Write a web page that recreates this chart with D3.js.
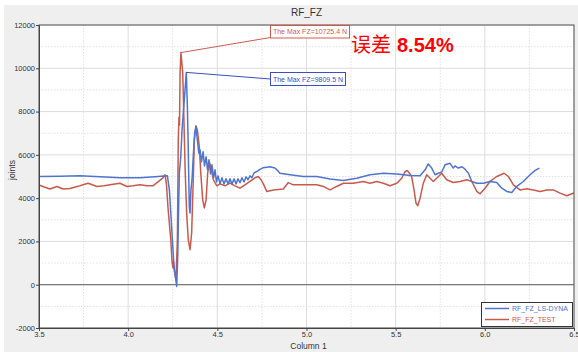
<!DOCTYPE html>
<html>
<head>
<meta charset="utf-8">
<script src="https://cdn.jsdelivr.net/npm/d3@7/dist/d3.min.js"></script>
<style>
  html, body { margin: 0; padding: 0; background: #ffffff; }
  svg { display: block; }
  text { font-family: "Liberation Sans", Arial, sans-serif; }
</style>
</head>
<body>
<svg id="chart" width="578" height="352"></svg>
<script>
// Time axis (Column 1) and force (N) samples for the simulation curve
const dynaX = [3.500,3.618,3.730,3.842,3.954,4.066,4.150,4.220,4.231,4.239,4.248,4.257,4.267,4.272,4.278,4.283,4.287,4.295,4.302,4.309,4.319,4.326,4.332,4.336,4.340,4.343,4.347,4.352,4.358,4.365,4.373,4.380,4.388,4.396,
  4.403,4.411,4.420,4.428,4.437,4.445,4.453,4.462,4.470,4.479,4.487,4.495,4.504,4.515,4.526,4.537,4.549,4.560,4.571,4.582,4.594,4.605,4.616,4.627,4.638,4.650,4.661,4.672,4.683,4.694,4.706,4.721,4.739,4.756,4.777,4.795,4.823,4.840,4.851,4.908,4.982,5.057,5.132,5.207,5.282,5.356,5.431,5.506,5.581,5.637,5.665,5.683,5.702,5.721,5.739,5.758,5.777,5.805,5.823,5.833,5.851,5.872,5.889,5.908,5.927,5.955,5.992,6.029,6.067,6.095,6.123,6.151,6.179,6.216,6.254,6.282,6.306];
const dynaY = [5000,5010,5030,4985,4940,4940,4985,5030,4380,3320,2080,845,230,-80,1310,3610,5150,5920,7150,7920,9000,9809.5,8230,6690,4850,3610,3310,4380,4850,5920,7000,7300,6690,6080,
  6230,5680,6140,5490,5910,5310,5770,5120,5540,4940,5310,4750,5030,4660,4940,4660,4890,4660,4890,4660,4890,4660,4890,4710,4940,4750,4985,4850,5030,4940,5170,5230,5330,5400,5430,5450,5390,5260,5150,5080,5000,5000,4880,4810,4920,5080,5150,5120,5050,5030,5310,5580,5390,5080,5150,5210,5540,5610,5390,5490,5390,5450,5340,5150,4770,4690,4690,4770,4720,4460,4310,4260,4540,4770,5080,5280,5390];

// Measured test curve
const testX = [3.500,3.522,3.562,3.601,3.635,3.674,3.719,3.747,3.775,3.825,3.865,3.898,3.954,3.993,4.027,4.066,4.106,4.139,4.167,4.195,4.207,4.215,4.223,4.239,4.246,4.251,4.254,4.260,4.268,4.276,4.281,4.285,4.288,4.291,4.296,4.306,4.313,4.320,4.328,4.337,4.347,4.356,4.365,4.371,4.380,4.388,4.399,4.407,4.418,4.427,4.437,4.446,4.455,4.463,4.478,4.497,4.515,4.543,4.571,4.599,4.627,4.655,4.683,4.711,4.730,4.745,4.758,4.777,4.814,4.870,4.898,4.926,4.982,5.057,5.094,5.132,5.169,5.207,5.263,5.319,5.356,5.394,5.431,5.468,5.506,5.534,5.552,5.565,5.581,5.590,5.603,5.614,5.624,5.637,5.655,5.674,5.693,5.711,5.730,5.758,5.786,5.823,5.861,5.899,5.927,5.955,5.973,6.001,6.029,6.067,6.108,6.132,6.160,6.197,6.235,6.272,6.310,6.347,6.384,6.422,6.460,6.488,6.506];
const testY = [4615,4540,4420,4540,4420,4450,4545,4615,4690,4540,4570,4615,4690,4540,4570,4615,4570,4570,4750,4940,5080,4615,3600,2080,1060,785,1060,600,230,2080,6690,7750,7380,9780,10725.4,9780,7480,5170,3320,2080,1620,2400,4850,6690,7340,7150,6380,5170,3920,3550,3920,5170,5680,5450,4850,4570,4660,4570,4690,4570,4460,4615,4770,4940,5000,4850,4660,4310,4380,4420,4720,4615,4615,4615,4540,4380,4540,4690,4690,4770,4690,4770,4690,4570,4690,4920,5220,5280,5120,4985,4380,3770,3650,4000,4690,5080,4920,4770,4920,5150,4850,4720,4770,4850,4770,4310,4200,4460,4770,5000,5150,5000,4615,4380,4430,4380,4310,4380,4380,4230,4110,4200,4260];

const seriesNames = ["RF_FZ_LS-DYNA", "RF_FZ_TEST"];
const xTicks = [3.5, 4.0, 4.5, 5.0, 5.5, 6.0, 6.5];
const yTicks = [-2000, 0, 2000, 4000, 6000, 8000, 10000, 12000];
const xMinor = [3.75, 4.25, 4.75, 5.25, 5.75, 6.25];
const yMinor = [-1000, 1000, 3000, 5000, 7000, 9000, 11000];

const colors = { dyna: "#4f74d0", test: "#c85a4c" };

const svg = d3.select("#chart");
const W = 578, H = 352;
const plot = { left: 39, top: 25, right: 574, bottom: 328 };

// Panel background
svg.append("rect").attr("x", 4).attr("y", 5).attr("width", W - 4).attr("height", H - 5).attr("fill", "#efefef");
svg.append("rect").attr("x", plot.left).attr("y", plot.top)
  .attr("width", plot.right - plot.left).attr("height", plot.bottom - plot.top).attr("fill", "#ffffff");

const x = d3.scaleLinear().domain([3.5, 6.5]).range([plot.left, plot.right]);
const y = d3.scaleLinear().domain([-2000, 12000]).range([plot.bottom, plot.top]);

// Grid: solid at major ticks, dotted at minor ones
const grid = svg.append("g");
grid.selectAll(".vminor").data(xMinor).join("line")
  .attr("x1", d => x(d)).attr("x2", d => x(d)).attr("y1", plot.top).attr("y2", plot.bottom)
  .attr("stroke", "#e2e2e2").attr("stroke-dasharray", "1.5,1.5");
grid.selectAll(".hminor").data(yMinor).join("line")
  .attr("y1", d => y(d)).attr("y2", d => y(d)).attr("x1", plot.left).attr("x2", plot.right)
  .attr("stroke", "#e2e2e2").attr("stroke-dasharray", "1.5,1.5");
grid.selectAll(".vmajor").data(xTicks).join("line")
  .attr("x1", d => x(d)).attr("x2", d => x(d)).attr("y1", plot.top).attr("y2", plot.bottom)
  .attr("stroke", "#dcdcdc");
grid.selectAll(".hmajor").data(yTicks).join("line")
  .attr("y1", d => y(d)).attr("y2", d => y(d)).attr("x1", plot.left).attr("x2", plot.right)
  .attr("stroke", "#dcdcdc");

// Zero line
svg.append("line").attr("x1", plot.left).attr("x2", plot.right)
  .attr("y1", y(0)).attr("y2", y(0)).attr("stroke", "#7a7a7a").attr("stroke-width", 1.3);

// Curves
svg.append("clipPath").attr("id", "clip").append("rect")
  .attr("x", plot.left).attr("y", plot.top).attr("width", plot.right - plot.left).attr("height", plot.bottom - plot.top);

const line = d3.line().x(d => x(d[0])).y(d => y(d[1]));
const dyna = dynaX.map((v, i) => [v, dynaY[i]]);
const test = testX.map((v, i) => [v, testY[i]]);

const curves = svg.append("g").attr("clip-path", "url(#clip)");
curves.append("path").datum(test).attr("d", line).attr("fill", "none")
  .attr("stroke", colors.test).attr("stroke-width", 1.5).attr("stroke-linejoin", "round");
curves.append("path").datum(dyna).attr("d", line).attr("fill", "none")
  .attr("stroke", colors.dyna).attr("stroke-width", 1.5).attr("stroke-linejoin", "round");

// Frame
svg.append("rect").attr("x", plot.left).attr("y", plot.top)
  .attr("width", plot.right - plot.left).attr("height", plot.bottom - plot.top)
  .attr("fill", "none").attr("stroke", "#555").attr("stroke-width", 1);

// Axes
const xAxis = svg.append("g").attr("transform", `translate(0,${plot.bottom})`)
  .call(d3.axisBottom(x).tickValues(xTicks).tickFormat(d3.format(".1f")).tickSize(3).tickPadding(1));
const yAxis = svg.append("g").attr("transform", `translate(${plot.left},0)`)
  .call(d3.axisLeft(y).tickValues(yTicks).tickFormat(d => String(d)).tickSize(3).tickPadding(1));
[xAxis, yAxis].forEach(a => {
  a.select(".domain").attr("stroke", "#444");
  a.selectAll(".tick line").attr("stroke", "#444");
  a.selectAll(".tick text").attr("fill", "#333").style("font-size", "7.5px")
    .style("font-family", "'Liberation Sans', Arial, sans-serif");
});

// Titles
svg.append("text").attr("x", (plot.left + plot.right) / 2).attr("y", 16).attr("text-anchor", "middle")
  .attr("fill", "#333").style("font-size", "10px").text("RF_FZ");
svg.append("text").attr("x", (plot.left + plot.right) / 2 + 2).attr("y", 349).attr("text-anchor", "middle")
  .attr("fill", "#333").style("font-size", "8.5px").text("Column 1");
svg.append("text").attr("transform", "translate(15,170) rotate(-90)").attr("text-anchor", "middle")
  .attr("fill", "#333").style("font-size", "8.5px").text("joints");

// Peak callouts
function callout(data, color, bx, by, bw, bh, anchorY) {
  const peak = data.reduce((a, b) => (b[1] > a[1] ? b : a));
  const g = svg.append("g");
  g.append("line").attr("x1", x(peak[0])).attr("y1", y(peak[1]))
    .attr("x2", bx).attr("y2", anchorY).attr("stroke", color).attr("stroke-width", 1);
  g.append("rect").attr("x", bx).attr("y", by).attr("width", bw).attr("height", bh)
    .attr("fill", "#ffffff").attr("stroke", color).attr("stroke-width", 1);
  g.append("text").attr("x", bx + bw / 2).attr("y", by + bh / 2 + 2.5).attr("text-anchor", "middle")
    .attr("fill", color).style("font-size", "7px").text(`The Max FZ=${peak[1]} N`);
}
callout(test, "#d05a50", 270.5, 25.5, 79, 12.5, 37.5);
callout(dyna, "#3b4fc0", 270.5, 72.5, 75, 13, 79);

// Error note
const note = svg.append("text").attr("x", 351).attr("y", 52).attr("fill", "#ff0000").style("font-size", "20px");
note.append("tspan").style("font-family", "'Noto Sans CJK SC', sans-serif").text("误差");
note.append("tspan").attr("dx", 6).style("font-weight", "bold")
  .style("font-family", "'Liberation Sans', Arial, sans-serif").text("8.54%");

// Legend
const lg = svg.append("g");
lg.append("rect").attr("x", 481.5).attr("y", 302.5).attr("width", 91).attr("height", 24)
  .attr("fill", "#ffffff").attr("stroke", "#333").attr("stroke-width", 1);
[[seriesNames[0], colors.dyna, 308.5], [seriesNames[1], colors.test, 319.5]].forEach(([name, c, ly]) => {
  lg.append("line").attr("x1", 485).attr("x2", 509).attr("y1", ly).attr("y2", ly)
    .attr("stroke", c).attr("stroke-width", 1.5);
  lg.append("text").attr("x", 512).attr("y", ly + 2.5).attr("fill", c).style("font-size", "7px").text(name);
});
</script>
</body>
</html>
